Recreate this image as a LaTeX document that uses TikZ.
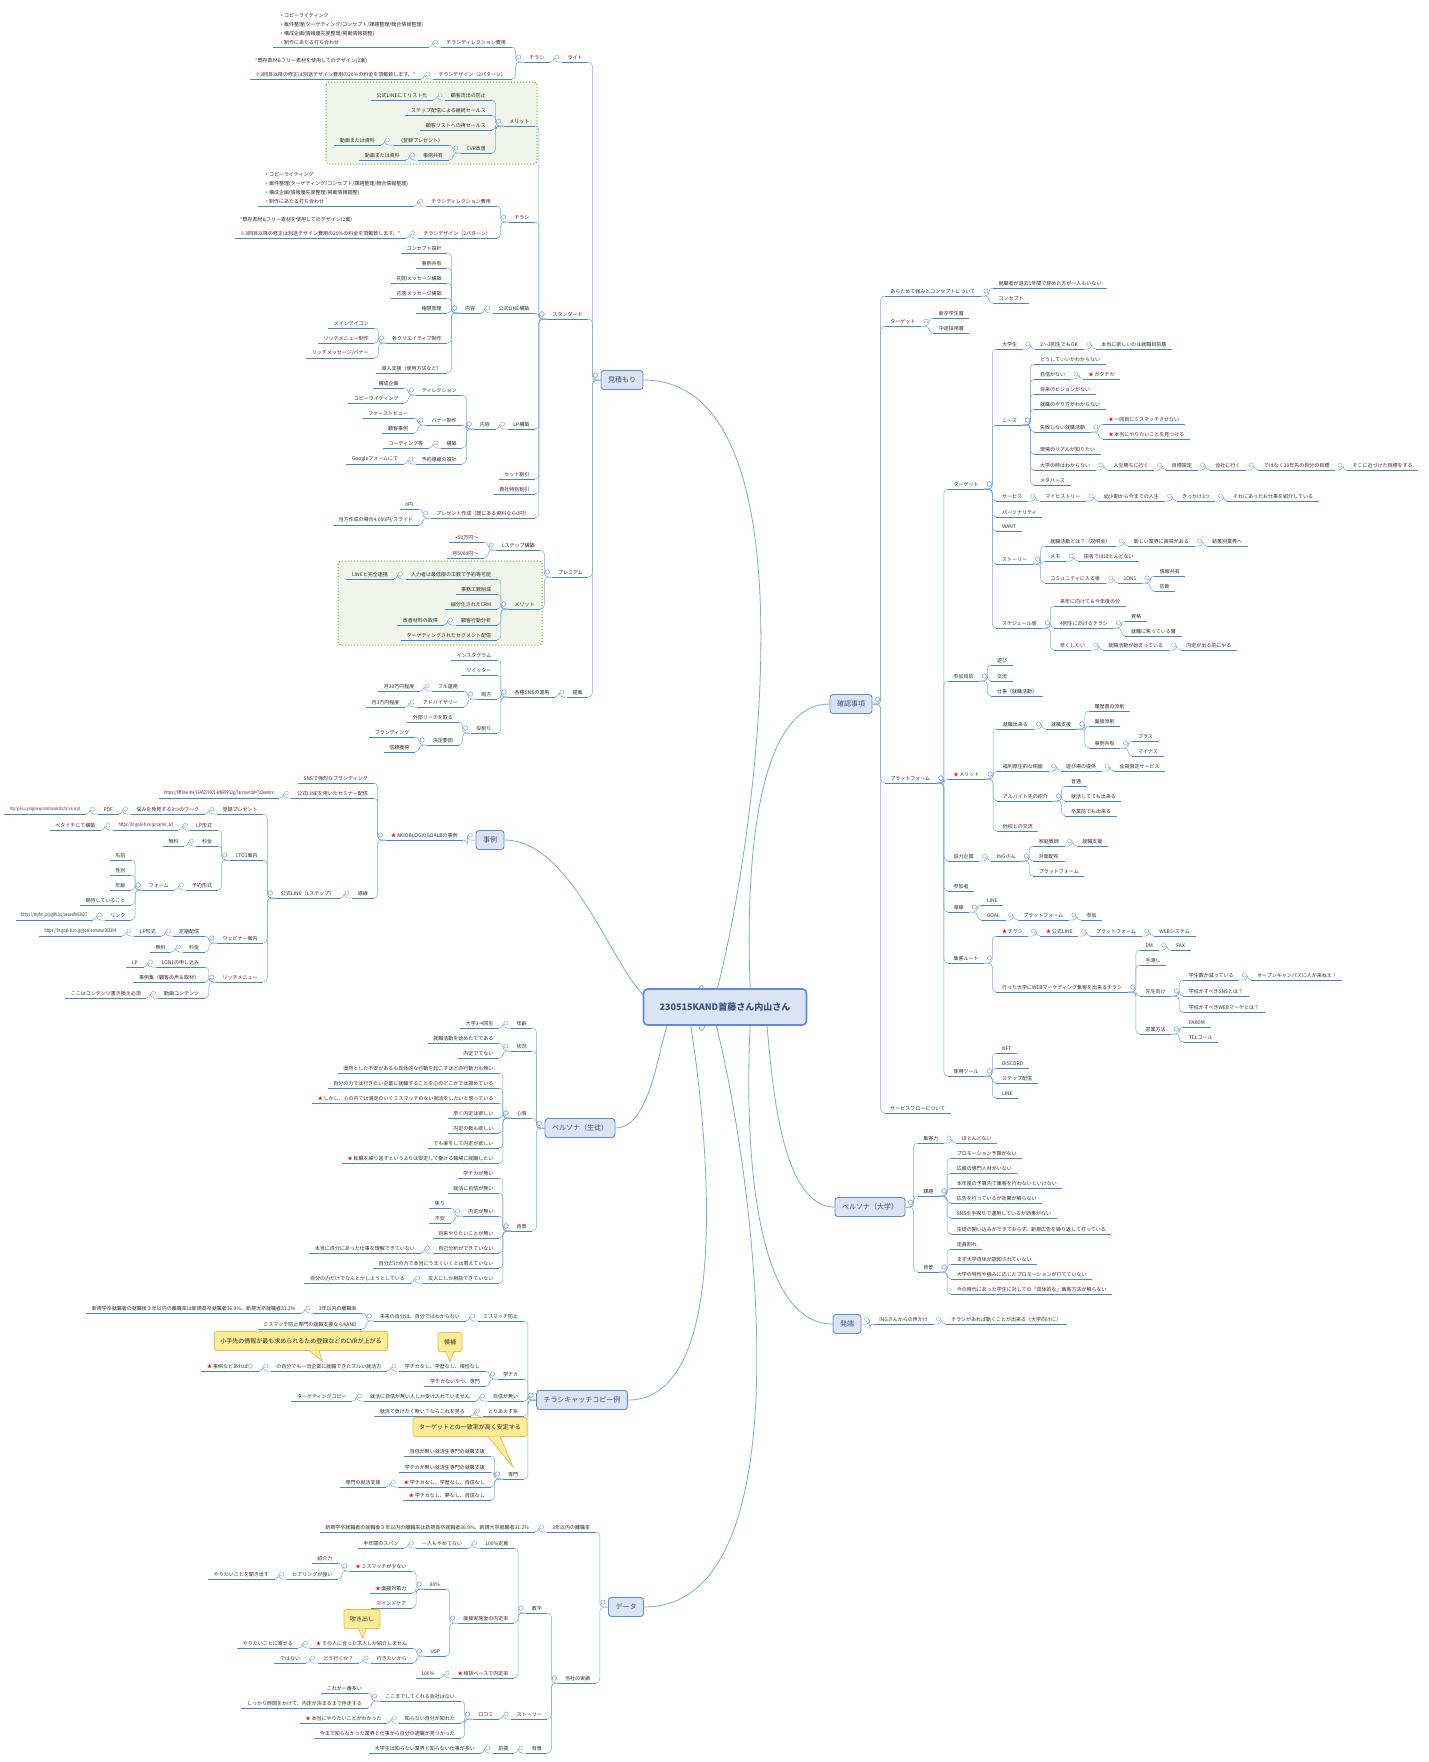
\documentclass[tikz,border=0pt]{standalone}
\usepackage{fontspec}
\setmainfont{Noto Sans CJK JP}
\usetikzlibrary{calc,backgrounds}
\definecolor{lnc}{RGB}{125,168,226}
\definecolor{ulc}{RGB}{72,130,212}
\definecolor{bxf}{RGB}{218,228,243}
\definecolor{bxd}{RGB}{96,140,210}
\definecolor{gf}{RGB}{241,245,233}
\definecolor{gd}{RGB}{130,168,60}
\definecolor{yf}{RGB}{252,237,150}
\definecolor{yd}{RGB}{232,188,80}
\definecolor{txc}{RGB}{45,45,45}
\tikzset{
 lf/.style={font=\fontsize{5}{9}\selectfont, text=txc, inner xsep=5.5pt, inner ysep=2pt, align=left},
 ulst/.style={ulc, line width=1pt},
 cn/.style={lnc, line width=0.5pt, rounded corners=4pt},
 ci/.style={lnc, line width=0.4pt, fill=white},
 bx/.style={draw=bxd, fill=bxf, rounded corners=3pt, line width=0.9pt, font=\fontsize{7}{8}\selectfont, text=bxd!60!black, inner xsep=7pt, minimum height=19pt},
 pt/.style={inner sep=0pt, minimum size=0pt},
 mb/.style={lnc, line width=0.8pt},
 co/.style={fill=yf, draw=yd, line width=0.7pt, rounded corners=2pt, font=\fontsize{6}{7}\selectfont, text=txc, inner xsep=6pt, minimum height=19pt},
 grp/.style={fill=gf, draw=gd, dotted, line width=1pt, rounded corners=3pt}
}
\newcommand\st{\textcolor{red}{★}\,}
\newcommand\nar[1]{\scalebox{0.72}[1]{#1}}
\newcommand\narr[1]{\scalebox{0.45}[1]{\fontsize{4.5}{5}\selectfont #1}}
\newcommand\Ln[4]{\path ([xshift=-12pt]#2.south west) coordinate (tt);
 \node[lf,anchor=south east] (#1) at (tt |- 0,#3) {#4};
 \draw[ulst] (#1.south west)--(#1.south east);
 \draw[cn] (#2.south west) -- ++(-8,0) |- (#1.south east);
 \draw[ci] ([shift={(-5,-5)}]#2.south west) circle (2.1);}
\newcommand\Rn[4]{\path ([xshift=12pt]#2.south east) coordinate (tt);
 \node[lf,anchor=south west] (#1) at (tt |- 0,#3) {#4};
 \draw[ulst] (#1.south west)--(#1.south east);
 \draw[cn] (#2.south east) -- ++(8,0) |- (#1.south west);
 \draw[ci] ([shift={(5,-5)}]#2.south east) circle (2.1);}
\newcommand\dirtxt{・コピーライティング\\・案件整理(ターゲティング/コンセプト/課題整理/競合情報整理)\\・構成企画(情報優先度整理/掲載情報調整)\\・制作にあたる打ち合わせ}
\newcommand\destxt{“既存素材\&フリー素材を使用してのデザイン(2案)\\[5pt]※3回目以降の修正は別途デザイン費用の20\%の料金を頂戴致します。”}
\begin{document}
\begin{tikzpicture}[x=1pt,y=-1pt]
\useasboundingbox (0,0) rectangle (1429,1762);
% center and main boxes
\node[draw=bxd, line width=1.6pt, fill=bxf, rounded corners=4pt, minimum width=163pt, minimum height=36pt, font=\fontsize{9}{10}\selectfont\bfseries, text=bxd!60!black] (c) at (725,1007) {230515KAND首藤さん内山さん};
\node[bx] (mt) at (622,380) {見積もり};
\node[bx] (jr) at (490,840) {事例};
\node[bx] (p1) at (580,1128) {ペルソナ（生徒）};
\node[bx] (ck) at (582,1400) {チラシキャッチコピー例};
\node[bx] (dt) at (626,1607) {データ};
\node[bx] (kk) at (851,704) {確認事項};
\node[bx] (p2) at (870,1207) {ペルソナ（大学）};
\node[bx] (ht) at (847,1324) {発端};
\begin{pgfonlayer}{background}
\fill[white] (0,0) rectangle (1429,1762);
\path[grp] (326,82) rectangle (537,164);
\path[grp] (338,561) rectangle (542,645);
\draw[mb] ([xshift=-25]c.north) to[out=-95,in=0] (mt.east);
\draw[mb] ([xshift=-45]c.north) to[out=-120,in=0] (jr.east);
\draw[mb] ([xshift=-45]c.south) to[out=115,in=0] (p1.east);
\draw[mb] ([xshift=-35]c.south) to[out=100,in=0] (ck.east);
\draw[mb] ([xshift=-25]c.south) to[out=95,in=0] (dt.east);
\draw[mb] ([xshift=25]c.north) to[out=-85,in=180] (kk.west);
\draw[mb] ([xshift=35]c.south) to[out=80,in=180] (p2.west);
\draw[mb] ([xshift=25]c.south) to[out=85,in=180] (ht.west);
\end{pgfonlayer}
\node[pt] (mtp) at (mt.west) {};
\node[pt] (jrp) at (jr.west) {};
\node[pt] (p1p) at (p1.west) {};
\node[pt] (ckp) at (ck.west) {};
\node[pt] (dtp) at (dt.west) {};
\node[pt] (kkp) at (kk.east) {};
\node[pt] (p2p) at (p2.east) {};
\node[pt] (htp) at (ht.east) {};
% ===== 見積もり
\Ln{mL}{mtp}{62}{ライト}
\Ln{mLc}{mL}{62}{チラシ}
\Ln{mLc1}{mLc}{47}{チラシディレクション費用}
\Ln{mLc1a}{mLc1}{47}{\dirtxt}
\Ln{mLc2}{mLc}{79}{チラシデザイン（2パターン）}
\Ln{mLc2a}{mLc2}{79}{\destxt}
\Ln{mS}{mtp}{319}{スタンダード}
\Ln{mSm}{mS}{126}{メリット}
\Ln{mSm1}{mSm}{100}{顧客流出の防止}
\Ln{mSm1a}{mSm1}{100}{公式LINEにてリスト化}
\Ln{mSm2}{mSm}{115}{ステップ配信による継続セールス}
\Ln{mSm3}{mSm}{130}{顧客リストへの再セールス}
\Ln{mSm4}{mSm}{153}{CVR改善}
\Ln{mSm4a}{mSm4}{145}{（登録プレゼント）}
\Ln{mSm4a1}{mSm4a}{145}{動画または資料}
\Ln{mSm4b}{mSm4}{160}{事例共有}
\Ln{mSm4b1}{mSm4b}{160}{動画または資料}
\Ln{mSc}{mS}{222}{チラシ}
\Ln{mSc1}{mSc}{206}{チラシディレクション費用}
\Ln{mSc1a}{mSc1}{206}{\dirtxt}
\Ln{mSc2}{mSc}{238}{チラシデザイン（2パターン）}
\Ln{mSc2a}{mSc2}{238}{\destxt}
\Ln{mSl}{mS}{313}{公式LINE構築}
\Ln{mSl1}{mSl}{313}{内容}
\Ln{mSl1a}{mSl1}{253}{コンセプト設計}
\Ln{mSl1b}{mSl1}{268}{事例共有}
\Ln{mSl1c}{mSl1}{283}{初回メッセージ構築}
\Ln{mSl1d}{mSl1}{298}{応答メッセージ構築}
\Ln{mSl1e}{mSl1}{313}{権限管理}
\Ln{mSl1f}{mSl1}{343}{各クリエイティブ制作}
\Ln{mSl1f1}{mSl1f}{328}{メインアイコン}
\Ln{mSl1f2}{mSl1f}{343}{リッチメニュー制作}
\Ln{mSl1f3}{mSl1f}{358}{リッチメッセージ/バナー}
\Ln{mSl1g}{mSl1}{373}{導入支援（使用方法など）}
\Ln{mSp}{mS}{429}{LP構築}
\Ln{mSp1}{mSp}{429}{内容}
\Ln{mSp1a}{mSp1}{395}{ディレクション}
\Ln{mSp1a1}{mSp1a}{388}{構成企画}
\Ln{mSp1a2}{mSp1a}{403}{コピーライティング}
\Ln{mSp1b}{mSp1}{425}{バナー制作}
\Ln{mSp1b1}{mSp1b}{418}{ファーストビュー}
\Ln{mSp1b2}{mSp1b}{433}{顧客事例}
\Ln{mSp1c}{mSp1}{448}{構築}
\Ln{mSp1c1}{mSp1c}{448}{コーディング等}
\Ln{mSp1d}{mSp1}{464}{予約導線の設計}
\Ln{mSp1d1}{mSp1d}{464}{Googleフォームにて}
\Ln{mS5}{mS}{479}{セット割引}
\Ln{mS6}{mS}{494}{貴社特別割引}
\Ln{mS7}{mS}{518}{プレゼント作成（既にある資料なら0円）}
\Ln{mS7a}{mS7}{509}{0円}
\Ln{mS7b}{mS7}{525}{当方作成の場合4,000円/スライド}
\Ln{mP}{mtp}{577}{プレミアム}
\Ln{mPl}{mP}{550}{Lステップ構築}
\Ln{mPl1}{mPl}{542}{+50万円〜}
\Ln{mPl2}{mPl}{558}{月5000円〜}
\Ln{mPm}{mP}{609}{メリット}
\Ln{mPm1}{mPm}{579}{入力者は最低限の工数で予約等可能}
\Ln{mPm1a}{mPm1}{579}{LINEと完全連携}
\Ln{mPm2}{mPm}{594}{事務工数削減}
\Ln{mPm3}{mPm}{609}{細分化されたCRM}
\Ln{mPm4}{mPm}{625}{顧客行動分析}
\Ln{mPm4a}{mPm4}{625}{改善材料の取得}
\Ln{mPm5}{mPm}{640}{ターゲティングされたセグメント配信}
\Ln{mT}{mtp}{697}{提案}
\Ln{mT1}{mT}{697}{各種SNSの運用}
\Ln{mT1a}{mT1}{660}{インスタグラム}
\Ln{mT1b}{mT1}{675}{ツイッター}
\Ln{mT1c}{mT1}{699}{両方}
\Ln{mT1c1}{mT1c}{691}{フル運用}
\Ln{mT1c1a}{mT1c1}{691}{月30万円程度}
\Ln{mT1c2}{mT1c}{707}{アドバイザリー}
\Ln{mT1c2a}{mT1c2}{707}{月3万円程度}
\Ln{mT1d}{mT1}{733}{役割り}
\Ln{mT1d1}{mT1d}{722}{外部リーチを取る}
\Ln{mT1d2}{mT1d}{745}{決定要因}
\Ln{mT1d2a}{mT1d2}{737}{ブランディング}
\Ln{mT1d2b}{mT1d2}{752}{信頼獲得}
% ===== 事例
\Ln{j1}{jrp}{840}{\st AKIOBLOGのGOALBの事例}
\Ln{j11}{j1}{783}{SNSで強烈なブランディング}
\Ln{j12}{j1}{798}{公式LINEを用いたセミナー配信}
\Ln{j12a}{j12}{798}{\nar{https://liff.line.me/1645278921-kWRPP32g/?accountId=712eemrx}}
\Ln{j13}{j1}{898}{導線}
\Ln{j13a}{j13}{898}{公式LINE（Lステップ）}
\Ln{j2}{j13a}{814}{登録プレゼント}
\Ln{j2a}{j2}{814}{悩みを発見する3つのワーク}
\Ln{j2b}{j2a}{814}{PDF}
\Ln{j2c}{j2b}{814}{\narr{https://goal-b.co.jp/magazine/wp-content/uploads/2022/05/carrer\_ad.pdf}}
\Ln{j3}{j13a}{860}{1TO1案内}
\Ln{j31}{j3}{830}{LP形式}
\Ln{j31a}{j31}{830}{\nar{https://ln.goal-b.co.jp/carrer\_ad}}
\Ln{j31b}{j31a}{830}{ベタイチにて構築}
\Ln{j32}{j3}{846}{料金}
\Ln{j32a}{j32}{846}{無料}
\Ln{j33}{j3}{890}{予約形式}
\Ln{j33a}{j33}{890}{フォーム}
\Ln{j33a1}{j33a}{860}{名前}
\Ln{j33a2}{j33a}{875}{性別}
\Ln{j33a3}{j33a}{890}{年齢}
\Ln{j33a4}{j33a}{905}{期待していること}
\Ln{j33a5}{j33a}{920}{リンク}
\Ln{j33a5a}{j33a5}{920}{\nar{https://myfm.jp/yglKiJjq/aeaeafe03627}}
\Ln{j4}{j13a}{943}{ウェビナー案内}
\Ln{j41}{j4}{936}{定期配信}
\Ln{j41a}{j41}{936}{LP形式}
\Ln{j41b}{j41a}{936}{\nar{https://ln.goal-b.co.jp/goal-seminar202304}}
\Ln{j42}{j4}{952}{料金}
\Ln{j42a}{j42}{952}{無料}
\Ln{j5}{j13a}{982}{リッチメニュー}
\Ln{j51}{j5}{967}{1ON1の申し込み}
\Ln{j51a}{j51}{967}{LP}
\Ln{j52}{j5}{982}{事例集（顧客の声＆取材）}
\Ln{j53}{j5}{998}{動画コンテンツ}
\Ln{j53a}{j53}{998}{ここはコンテンツ書き換え必須}
% ===== ペルソナ（生徒）
\Ln{q1}{p1p}{1028}{年齢}
\Ln{q1a}{q1}{1028}{大学3-4回生}
\Ln{q2}{p1p}{1051}{状況}
\Ln{q2a}{q2}{1043}{就職活動を始めたてである}
\Ln{q2b}{q2}{1058}{内定でてない}
\Ln{q3}{p1p}{1118}{心情}
\Ln{q3a}{q3}{1073}{漠然とした不安があるも具体的な行動を起こすほどの行動力も無い}
\Ln{q3b}{q3}{1088}{自分の力では行きたい企業に就職することを心のどこかでは諦めている}
\Ln{q3c}{q3}{1103}{\st しかし、心の内では満足のいくミスマッチのない就活をしたいと思っている}
\Ln{q3d}{q3}{1118}{早く内定は欲しい}
\Ln{q3e}{q3}{1133}{内定の数も欲しい}
\Ln{q3f}{q3}{1148}{でも楽をして内定が欲しい}
\Ln{q3g}{q3}{1163}{\st 転職を繰り返すというよりは安定して働ける職場に就職したい}
\Ln{q4}{p1p}{1231}{背景}
\Ln{q4a}{q4}{1178}{学チカが無い}
\Ln{q4b}{q4}{1193}{就活に自信が無い}
\Ln{q4c}{q4}{1216}{内定が無い}
\Ln{q4c1}{q4c}{1208}{焦り}
\Ln{q4c2}{q4c}{1223}{不安}
\Ln{q4d}{q4}{1238}{将来やりたいことが無い}
\Ln{q4e}{q4}{1253}{自己分析ができていない}
\Ln{q4e1}{q4e}{1253}{本当に自分にあった仕事を理解できていない}
\Ln{q4f}{q4}{1268}{自分だけの力で本当にうまくいくとは思えていない}
\Ln{q4g}{q4}{1283}{友人にしか相談できていない}
\Ln{q4g1}{q4g}{1283}{自分の力だけでなんとかしようとしている}
% ===== チラシキャッチコピー例
\Ln{r1}{ckp}{1321}{ミスマッチ防止}
\Ln{r1a}{r1}{1321}{未来の自分は、自分ではわからない}
\Ln{r1a1}{r1a}{1313}{3年以内の離職率}
\Ln{r1a1a}{r1a1}{1313}{新規学卒就職者の就職後３年以内の離職率は新規高卒就職者36.9\%、新規大卒就職者31.2\%}
\Ln{r1a2}{r1a}{1329}{ミスマッチ防止専門の就職支援ならKAND}
\Ln{r2}{ckp}{1379}{学チカ}
\Ln{r2a}{r2}{1371}{学チカなし、学歴なし、根性なし}
\Ln{r2a1}{r2a}{1371}{の自分でも一流企業に就職できたズルい就活方}
\Ln{r2a2}{r2a1}{1371}{\st 事例などあれば◎}
\Ln{r2b}{r2}{1386}{学チカないやつ、専門}
\Ln{r3}{ckp}{1401}{自信が無い}
\Ln{r3a}{r3}{1401}{就活に自信が無い人しか受け入れていません}
\Ln{r3b}{r3a}{1401}{ターゲティングコピー}
\Ln{r4}{ckp}{1416}{とりあえず系}
\Ln{r4a}{r4}{1416}{就活で負けたく無い？ならこれを見ろ}
\Ln{r5}{ckp}{1479}{専門}
\Ln{r5a}{r5}{1456}{自信が無い就活生専門の就職支援}
\Ln{r5b}{r5}{1472}{学チカが無い就活生専門の就職支援}
\Ln{r5c}{r5}{1487}{\st 学チカなし、学歴なし、自信なし}
\Ln{r5c1}{r5c}{1487}{専門の就活支援}
\Ln{r5d}{r5}{1500}{\st 学チカなし、夢なし、自信なし}
% ===== データ
\Ln{d1}{dtp}{1532}{3年以内の離職率}
\Ln{d1a}{d1}{1532}{新規学卒就職者の就職後３年以内の離職率は新規高卒就職者36.9\%、新規大卒就職者31.2\%}
\Ln{d2}{dtp}{1683}{当社の実績}
\Ln{d21}{d2}{1613}{数字}
\Ln{d21a}{d21}{1548}{100\%定着}
\Ln{d21a1}{d21a}{1548}{一人もやめてない}
\Ln{d21a2}{d21a1}{1548}{半年間のスパン}
\Ln{d21b}{d21}{1623}{面接実施後の内定率}
\Ln{d21b1}{d21b}{1589}{80\%}
\Ln{d21b1a}{d21b1}{1571}{\st ミスマッチが少ない}
\Ln{d21b1a1}{d21b1a}{1563}{紹介力}
\Ln{d21b1a2}{d21b1a}{1579}{ヒアリングが強い}
\Ln{d21b1a3}{d21b1a2}{1579}{やりたいことを聞き出す}
\Ln{d21b1b}{d21b1}{1593}{\st 面接対策力}
\Ln{d21b1c}{d21b1}{1608}{マインドケア}
\Ln{d21b2}{d21b}{1656}{USP}
\Ln{d21b2a}{d21b2}{1648}{\st その人に合った求人しか紹介しません}
\Ln{d21b2a1}{d21b2a}{1648}{やりたいことに寄せる}
\Ln{d21b2b}{d21b2}{1663}{行きたいから}
\Ln{d21b2b1}{d21b2b}{1663}{どう行くか？}
\Ln{d21b2b2}{d21b2b1}{1663}{ではない}
\Ln{d21c}{d21}{1678}{\st 相談ベースで内定率}
\Ln{d21c1}{d21c}{1678}{100\%}
\Ln{d22}{d2}{1719}{ストーリー}
\Ln{d22a}{d22}{1719}{口コミ}
\Ln{d22a1}{d22a}{1701}{ここまでしてくれる会社はない}
\Ln{d22a1a}{d22a1}{1693}{これが一番多い}
\Ln{d22a1b}{d22a1}{1708}{しっかり時間をかけて、内定が決まるまで伴走する}
\Ln{d22a2}{d22a}{1723}{知らない自分が知れた}
\Ln{d22a2a}{d22a2}{1723}{\st 本当にやりたいことがわかった}
\Ln{d22a3}{d22a}{1738}{今まで知らなかった業界と仕事から自分の適職が見つかった}
\Ln{d23}{d2}{1753}{背景}
\Ln{d23a}{d23}{1753}{前提}
\Ln{d23b}{d23a}{1753}{大学生は知らない業界と知らない仕事が多い}
% ===== 確認事項
\Rn{k1}{kkp}{296}{あらためて強みとコンセプトについて}
\Rn{k1a}{k1}{288}{就職者が過去1年間で辞めた方が一人もいない}
\Rn{k1b}{k1}{303}{コンセプト}
\Rn{k2}{kkp}{326}{ターゲット}
\Rn{k2a}{k2}{318}{新卒学生層}
\Rn{k2b}{k2}{333}{中途採用層}
\Rn{k3}{kkp}{783}{プラットフォーム}
\Rn{t}{k3}{489}{ターゲット}
\Rn{t1}{t}{349}{大学生}
\Rn{t1a}{t1}{349}{2〜3回生でもOK}
\Rn{t1b}{t1a}{349}{本当に欲しいのは就職目前層}
\Rn{t2}{t}{425}{ニーズ}
\Rn{t2a}{t2}{364}{どうしていいかわからない}
\Rn{t2b}{t2}{379}{自信がない}
\Rn{t2b1}{t2b}{379}{\st ガクチカ}
\Rn{t2c}{t2}{394}{将来のビジョンがない}
\Rn{t2d}{t2}{409}{就職のやり方がわからない}
\Rn{t2e}{t2}{432}{失敗しない就職活動}
\Rn{t2e1}{t2e}{424}{\st 一回目にミスマッチさせない}
\Rn{t2e2}{t2e}{439}{\st 本当にやりたいことを見つける}
\Rn{t2f}{t2}{454}{現場のリアルが知りたい}
\Rn{t2g}{t2}{470}{大学の時はわからない}
\Rn{t2g1}{t2g}{470}{人生勝ちに行く}
\Rn{t2g2}{t2g1}{470}{目標設定}
\Rn{t2g3}{t2g2}{470}{会社に行く}
\Rn{t2g4}{t2g3}{470}{ではなく10年先の自分の目標}
\Rn{t2g5}{t2g4}{470}{そこに近づけた目標をする}
\Rn{t2h}{t2}{485}{メタバース}
\Rn{t3}{t}{501}{サービス}
\Rn{t3a}{t3}{501}{マイヒストリー}
\Rn{t3b}{t3a}{501}{幼少期から今までの人生}
\Rn{t3c}{t3b}{501}{きっかけ3つ}
\Rn{t3d}{t3c}{501}{それにあったお仕事を紹介している}
\Rn{t4}{t}{517}{パーソナリティ}
\Rn{t5}{t}{531}{WANT}
\Rn{t6}{t}{564}{ストーリー}
\Rn{t6a}{t6}{546}{就職活動とは？（説明会）}
\Rn{t6a1}{t6a}{546}{新しい業界に興味がある}
\Rn{t6a2}{t6a1}{546}{結果別業界へ}
\Rn{t6b}{t6}{561}{メモ}
\Rn{t6b1}{t6b}{561}{田舎ではほとんどない}
\Rn{t6c}{t6}{583}{コミュニティに入る後}
\Rn{t6c1}{t6c}{583}{1ON1}
\Rn{t6c1a}{t6c1}{576}{情報共有}
\Rn{t6c1b}{t6c1}{591}{診断}
\Rn{t7}{t}{628}{スケジュール感}
\Rn{t7a}{t7}{606}{来年に向けて＆今年度の分}
\Rn{t7b}{t7}{628}{4回生に向けるチラシ}
\Rn{t7b1}{t7b}{621}{資格}
\Rn{t7b2}{t7b}{636}{就職に焦っている層}
\Rn{t7c}{t7}{650}{早くしたい}
\Rn{t7c1}{t7c}{650}{就職活動が始まっている}
\Rn{t7c2}{t7c1}{650}{内定が出る前にやる}
\Rn{u1}{k3}{681}{参加目的}
\Rn{u1a}{u1}{665}{遊び}
\Rn{u1b}{u1}{681}{交流}
\Rn{u1c}{u1}{696}{仕事（就職活動）}
\Rn{u2}{k3}{779}{\st メリット}
\Rn{u2a}{u2}{729}{就職出来る}
\Rn{u2a1}{u2a}{729}{就職支援}
\Rn{u2a1a}{u2a1}{711}{履歴書の添削}
\Rn{u2a1b}{u2a1}{726}{面接添削}
\Rn{u2a1c}{u2a1}{748}{事例共有}
\Rn{u2a1c1}{u2a1c}{741}{プラス}
\Rn{u2a1c2}{u2a1c}{756}{マイナス}
\Rn{u2b}{u2}{771}{福利厚生的な側面}
\Rn{u2b1}{u2b}{771}{遊び場の提供}
\Rn{u2b2}{u2b1}{771}{会員限定サービス}
\Rn{u2c}{u2}{801}{アルバイト先の紹介}
\Rn{u2c1}{u2c}{786}{普通}
\Rn{u2c2}{u2c}{801}{就活してても出来る}
\Rn{u2c3}{u2c}{816}{卒業前でも出来る}
\Rn{u2d}{u2}{831}{他校との交流}
\Rn{u3}{k3}{861}{協力企業}
\Rn{u3a}{u3}{861}{INGさん}
\Rn{u3a1}{u3a}{846}{家庭教師}
\Rn{u3a1a}{u3a1}{846}{就職支援}
\Rn{u3a2}{u3a}{861}{対面配布}
\Rn{u3a3}{u3a}{876}{プラットフォーム}
\Rn{u4}{k3}{891}{参加者}
\Rn{u5}{k3}{912}{導線}
\Rn{u5a}{u5}{905}{LINE}
\Rn{u5b}{u5}{920}{GOAL}
\Rn{u5b1}{u5b}{920}{プラットフォーム}
\Rn{u5b2}{u5b1}{920}{参加}
\Rn{u6}{k3}{963}{集客ルート}
\Rn{u6a}{u6}{936}{\st チラシ}
\Rn{u6a1}{u6a}{936}{\st 公式LINE}
\Rn{u6a2}{u6a1}{936}{プラットフォーム}
\Rn{u6a3}{u6a2}{936}{WEBシステム}
\Rn{u6b}{u6}{992}{行った大学にWEBマーケティング集客を出来るチラシ}
\Rn{u6b1}{u6b}{950}{DM}
\Rn{u6b1a}{u6b1}{950}{FAX}
\Rn{u6b2}{u6b}{965}{手渡し}
\Rn{u6b3}{u6b}{996}{先生向け}
\Rn{u6b3a}{u6b3}{980}{学生数が減っている}
\Rn{u6b3a1}{u6b3a}{980}{オープンキャンパスに人が来ねえ！}
\Rn{u6b3b}{u6b3}{996}{学校がすべきSNSとは？}
\Rn{u6b3c}{u6b3}{1012}{学校がすべきWEBマーケとは？}
\Rn{u6b4}{u6b}{1034}{営業方法}
\Rn{u6b4a}{u6b4}{1027}{FAXDM}
\Rn{u6b4b}{u6b4}{1042}{TELコール}
\Rn{u7}{k3}{1076}{使用ツール}
\Rn{u7a}{u7}{1053}{NFT}
\Rn{u7b}{u7}{1068}{DISCORD}
\Rn{u7c}{u7}{1083}{ステップ配信}
\Rn{u7d}{u7}{1098}{LINE}
\Rn{k4}{kkp}{1113}{サービスフローについて}
% ===== ペルソナ（大学）
\Rn{v1}{p2p}{1143}{集客力}
\Rn{v1a}{v1}{1143}{ほとんどない}
\Rn{v2}{p2p}{1196}{課題}
\Rn{v2a}{v2}{1158}{プロモーション予算がない}
\Rn{v2b}{v2}{1173}{広報の専門人材がいない}
\Rn{v2c}{v2}{1188}{本年度の予算内で集客を行わないといけない}
\Rn{v2d}{v2}{1203}{広告を打っているが効果が解らない}
\Rn{v2e}{v2}{1218}{SNSを手探りで運用しているが効果がない}
\Rn{v2f}{v2}{1234}{生徒の囲い込みができておらず、新規広告を繰り返して打っている}
\Rn{v3}{p2p}{1272}{背景}
\Rn{v3a}{v3}{1249}{定員割れ}
\Rn{v3b}{v3}{1264}{まず大学自体が認知されていない}
\Rn{v3c}{v3}{1279}{大学の特性や強みに応じたプロモーションが打てていない}
\Rn{v3d}{v3}{1294}{今の時代にあった学生に対しての「具体的な」集客方法が解らない}
% ===== 発端
\Rn{w1}{htp}{1324}{INGさんからの声かけ}
\Rn{w1a}{w1}{1324}{チラシがあれば動くことが出来る（大学向けに）}
% ===== callouts
\coordinate (tp1) at (322,1361);
\coordinate (tp2) at (450,1362);
\coordinate (tp3) at (513,1467);
\coordinate (tp4) at (363,1638);
\node[co] (cb1) at (301,1341) {小手先の情報が最も求められるため登録などのCVRが上がる};
\node[co] (cb2) at (450,1342) {候補};
\node[co] (cb3) at (470,1427) {ターゲットとの一致率が高く安定する};
\node[co] (cb4) at (362,1619) {吹き出し};
\filldraw[fill=yf,draw=yd,line width=0.7pt] ([xshift=8pt,yshift=0.5pt]cb1.south) -- (tp1) -- ([xshift=18pt,yshift=0.5pt]cb1.south);
\filldraw[fill=yf,draw=yd,line width=0.7pt] ([xshift=-4pt,yshift=0.5pt]cb2.south) -- (tp2) -- ([xshift=4pt,yshift=0.5pt]cb2.south);
\filldraw[fill=yf,draw=yd,line width=0.7pt] ([xshift=18pt,yshift=0.5pt]cb3.south) -- (tp3) -- ([xshift=30pt,yshift=0.5pt]cb3.south);
\filldraw[fill=yf,draw=yd,line width=0.7pt] ([xshift=-4pt,yshift=0.5pt]cb4.south) -- (tp4) -- ([xshift=4pt,yshift=0.5pt]cb4.south);
\end{tikzpicture}
\end{document}
